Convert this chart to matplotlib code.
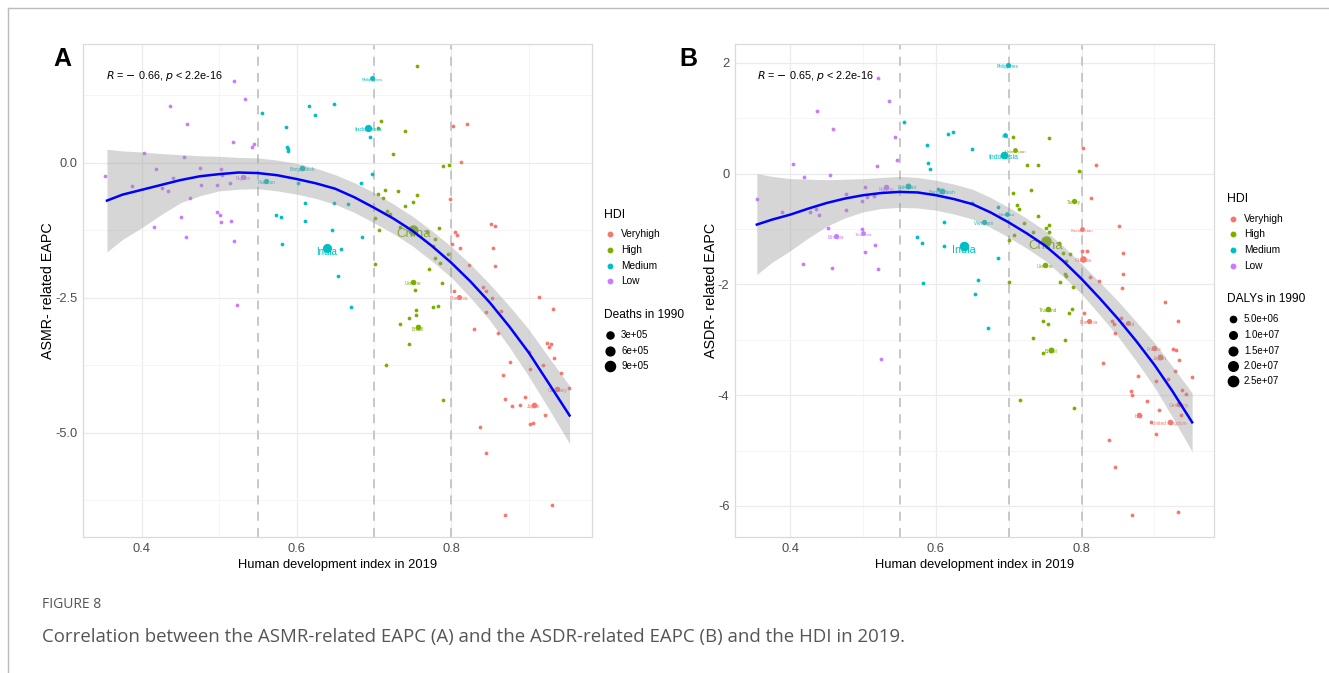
import numpy as np
import matplotlib
matplotlib.use("Agg")
import matplotlib.pyplot as plt
from matplotlib.lines import Line2D

plt.rcParams['font.family'] = ['Liberation Sans', 'DejaVu Sans']

W, H = 1329, 673
hdi_groups = ["Veryhigh", "High", "Medium", "Low"]
colors = {"Veryhigh": "#F8766D", "High": "#7CAE00", "Medium": "#00BFC4", "Low": "#C77CFF"}

# ---------------- panel A : ASMR EAPC vs HDI ----------------
a_low_x = [0.519, 0.534, 0.436, 0.458, 0.518, 0.545, 0.543, 0.403, 0.454, 0.353, 0.418, 0.440, 0.475, 0.502, 0.504, 0.387,
           0.426, 0.434, 0.476, 0.497, 0.514, 0.462, 0.497, 0.501, 0.451, 0.502, 0.515, 0.416, 0.457, 0.519, 0.523]
a_low_y = [1.52, 1.18, 1.06, 0.71, 0.38, 0.35, 0.29, 0.19, 0.10, -0.25, -0.12, -0.28, -0.10, -0.12, -0.23, -0.43,
           -0.46, -0.53, -0.41, -0.41, -0.38, -0.65, -0.91, -0.96, -1.01, -1.09, -1.08, -1.19, -1.38, -1.44, -2.64]
a_med_x = [0.555, 0.616, 0.649, 0.624, 0.587, 0.588, 0.589, 0.589, 0.602, 0.611, 0.649, 0.666, 0.573, 0.580, 0.611, 0.646,
           0.581, 0.657, 0.653, 0.671, 0.695, 0.698, 0.684, 0.685]
a_med_y = [0.93, 1.06, 1.09, 0.89, 0.66, 0.29, 0.26, 0.22, -0.38, -0.75, -0.75, -0.77, -0.97, -1.01, -1.08, -1.25,
           -1.51, -1.59, -2.09, -2.67, 0.47, -0.20, -0.38, -1.37]
a_high_x = [0.756, 0.709, 0.705, 0.740, 0.725, 0.790, 0.797, 0.705, 0.712, 0.714, 0.731, 0.756, 0.751, 0.740, 0.717, 0.721,
            0.701, 0.734, 0.707, 0.784, 0.769, 0.779, 0.776, 0.796, 0.779, 0.785, 0.771, 0.701, 0.788, 0.753, 0.754, 0.754,
            0.777, 0.783, 0.745, 0.734, 0.745, 0.716, 0.789]
a_high_y = [1.80, 0.78, 0.65, 0.58, 0.17, -0.06, -0.04, -0.58, -0.65, -0.50, -0.53, -0.59, -0.73, -0.80, -0.90, -0.95,
            -1.02, -1.18, -1.25, -1.20, -1.28, -1.41, -1.54, -1.69, -1.77, -1.85, -1.97, -1.88, -2.22, -2.35, -2.73, -2.82,
            -2.67, -2.65, -2.88, -2.99, -3.36, -3.75, -4.39]
a_vh_x = [0.802, 0.820, 0.813, 0.798, 0.805, 0.807, 0.801, 0.811, 0.851, 0.856, 0.854, 0.823, 0.856, 0.841, 0.845, 0.803,
          0.853, 0.914, 0.932, 0.845, 0.864, 0.829, 0.861, 0.924, 0.929, 0.927, 0.933, 0.900, 0.876, 0.902, 0.919, 0.867,
          0.942, 0.952, 0.869, 0.895, 0.879, 0.889, 0.921, 0.902, 0.906, 0.837, 0.845, 0.930, 0.870]
a_vh_y = [0.69, 0.72, 0.01, -0.67, -1.28, -1.34, -1.51, -1.57, -1.13, -1.17, -1.57, -1.90, -1.92, -2.30, -2.37, -2.38,
          -2.50, -2.49, -2.71, -2.76, -2.75, -3.08, -3.16, -3.33, -3.35, -3.41, -3.62, -3.51, -3.69, -3.81, -3.74, -3.93,
          -3.89, -4.17, -4.38, -4.33, -4.51, -4.49, -4.67, -4.84, -4.82, -4.90, -5.38, -6.33, -6.53]

a_lab_name = ["Nigeria", "Pakistan", "Bangladesh", "India", "Indonesia", "Philippines", "China", "Ukraine", "Brazil",
              "Romania", "Germany", "Japan"]
a_lab_group = ["Low", "Medium", "Medium", "Medium", "Medium", "Medium", "High", "High", "High",
               "Veryhigh", "Veryhigh", "Veryhigh"]
a_lab_x = [0.531, 0.561, 0.607, 0.639, 0.693, 0.698, 0.751, 0.750, 0.757, 0.810, 0.937, 0.907]
a_lab_y = [-0.27, -0.33, -0.10, -1.58, 0.65, 1.57, -1.24, -2.20, -3.05, -2.48, -4.19, -4.49]
a_lab_deaths = [1.0e5, 1.0e5, 1.2e5, 6.6e5, 3.2e5, 0.6e5, 9.6e5, 1.1e5, 1.3e5, 0.8e5, 1.2e5, 1.3e5]

# smoothed fit with confidence band
a_fit_x = [0.355, 0.375, 0.40, 0.425, 0.45, 0.475, 0.50, 0.525, 0.55, 0.575, 0.60, 0.625, 0.65,
           0.675, 0.70, 0.725, 0.75, 0.775, 0.80, 0.825, 0.85, 0.875, 0.90, 0.925, 0.953]
a_fit_y = [-0.70, -0.59, -0.50, -0.41, -0.32, -0.25, -0.21, -0.18, -0.19, -0.23, -0.30, -0.38, -0.48,
           -0.64, -0.83, -1.03, -1.26, -1.54, -1.85, -2.20, -2.59, -3.03, -3.51, -4.06, -4.68]
a_fit_lo = [-1.65, -1.42, -1.20, -0.96, -0.74, -0.61, -0.52, -0.49, -0.48, -0.52, -0.58, -0.66, -0.77,
            -0.92, -1.11, -1.31, -1.54, -1.82, -2.12, -2.50, -2.92, -3.41, -3.95, -4.53, -5.20]
a_fit_hi = [0.25, 0.22, 0.20, 0.17, 0.15, 0.13, 0.12, 0.10, 0.09, 0.05, -0.01, -0.10, -0.22,
            -0.37, -0.55, -0.76, -0.99, -1.26, -1.55, -1.88, -2.25, -2.65, -3.08, -3.58, -4.13]

# ---------------- panel B : ASDR EAPC vs HDI ----------------
b_low_x = [0.520, 0.535, 0.437, 0.458, 0.544, 0.546, 0.519, 0.404, 0.419, 0.455, 0.354, 0.503, 0.476, 0.505, 0.498, 0.515,
           0.435, 0.427, 0.440, 0.477, 0.389, 0.452, 0.498, 0.516, 0.503, 0.417, 0.457, 0.520, 0.524]
b_low_y = [1.72, 1.31, 1.13, 0.81, 0.67, 0.25, 0.13, 0.17, -0.06, -0.03, -0.45, -0.24, -0.37, -0.43, -0.49, -0.40,
           -0.63, -0.69, -0.74, -0.65, -0.69, -0.99, -1.00, -1.29, -1.41, -1.64, -1.71, -1.73, -3.34]
b_med_x = [0.556, 0.616, 0.624, 0.588, 0.589, 0.592, 0.649, 0.603, 0.649, 0.611, 0.574, 0.581, 0.611, 0.582, 0.658, 0.653,
           0.685, 0.685, 0.672]
b_med_y = [0.93, 0.72, 0.75, 0.52, 0.19, 0.08, 0.45, -0.28, -0.53, -0.87, -1.14, -1.26, -1.30, -1.98, -1.92, -2.17,
           -0.61, -1.52, -2.78]
b_high_x = [0.706, 0.756, 0.725, 0.740, 0.797, 0.706, 0.731, 0.712, 0.714, 0.740, 0.721, 0.751, 0.756, 0.756, 0.734, 0.707,
            0.701, 0.769, 0.774, 0.784, 0.779, 0.777, 0.779, 0.701, 0.771, 0.788, 0.787, 0.783, 0.747, 0.754, 0.734, 0.777,
            0.747, 0.716, 0.789]
b_high_y = [0.67, 0.64, 0.16, 0.16, 0.05, -0.35, -0.29, -0.57, -0.63, -0.76, -0.89, -0.99, -0.92, -1.05, -1.05, -1.10,
            -1.19, -1.25, -1.43, -1.46, -1.57, -1.82, -1.84, -1.96, -1.95, -2.05, -2.44, -2.52, -2.66, -2.71, -2.96, -3.01,
            -3.23, -4.08, -4.24]
b_vh_x = [0.802, 0.820, 0.813, 0.852, 0.800, 0.807, 0.857, 0.857, 0.812, 0.824, 0.855, 0.915, 0.804, 0.842, 0.845, 0.854,
          0.846, 0.932, 0.925, 0.930, 0.934, 0.928, 0.919, 0.902, 0.877, 0.830, 0.952, 0.938, 0.943, 0.868, 0.870, 0.890,
          0.907, 0.937, 0.895, 0.903, 0.838, 0.846, 0.870, 0.932]
b_vh_y = [0.46, 0.15, -0.44, -0.94, -1.39, -1.40, -1.43, -1.81, -1.87, -1.93, -2.07, -2.32, -2.52, -2.66, -2.71, -2.60,
          -2.87, -2.66, -3.17, -3.19, -3.37, -3.56, -3.71, -3.75, -3.66, -3.42, -3.68, -3.90, -3.97, -3.93, -4.00, -4.10,
          -4.26, -4.35, -4.48, -4.70, -4.80, -5.29, -6.17, -6.11]

b_lab_name = ["Nigeria", "Ethiopia", "Tanzania", "Pakistan", "Bangladesh", "India", "Philippines", "Iraq", "Indonesia",
              "Viet Nam", "Morocco", "Uzbekistan", "Turkey", "China", "Ukraine", "Thailand", "Brazil", "Kazakhstan",
              "Russia", "Romania", "Poland", "France", "Japan", "Germany", "Italy", "United Kingdom"]
b_lab_group = ["Low", "Low", "Low", "Medium", "Medium", "Medium", "Medium", "Medium", "Medium",
               "Medium", "Medium", "High", "High", "High", "High", "High", "High", "Veryhigh",
               "Veryhigh", "Veryhigh", "Veryhigh", "Veryhigh", "Veryhigh", "Veryhigh", "Veryhigh", "Veryhigh"]
b_lab_x = [0.532, 0.463, 0.500, 0.561, 0.608, 0.639, 0.699, 0.695, 0.693, 0.666, 0.698, 0.709, 0.789, 0.751, 0.750, 0.754,
           0.758, 0.800, 0.802, 0.810, 0.864, 0.900, 0.908, 0.934, 0.879, 0.921]
b_lab_y = [-0.25, -1.13, -1.08, -0.22, -0.31, -1.31, 1.96, 0.69, 0.34, -0.88, -0.72, 0.42, -0.49, -1.22, -1.65, -2.44,
           -3.18, -1.00, -1.54, -2.66, -2.69, -3.14, -3.31, -4.16, -4.36, -4.49]
b_lab_dalys = [3.0e6, 2.0e6, 1.5e6, 4.0e6, 4.0e6, 2.0e7, 2.0e6, 1.5e6, 1.0e7, 2.5e6, 1.5e6, 1.5e6, 2.5e6, 2.55e7, 3.0e6,
               3.0e6, 4.0e6, 1.5e6, 6.0e6, 2.0e6, 2.0e6, 2.5e6, 4.0e6, 3.5e6, 3.0e6, 3.0e6]

b_fit_x = [0.354, 0.375, 0.40, 0.425, 0.45, 0.475, 0.50, 0.525, 0.55, 0.575, 0.60, 0.625, 0.65,
           0.675, 0.70, 0.725, 0.75, 0.775, 0.80, 0.825, 0.85, 0.875, 0.90, 0.925, 0.952]
b_fit_y = [-0.92, -0.83, -0.74, -0.63, -0.53, -0.45, -0.39, -0.35, -0.33, -0.34, -0.39, -0.46, -0.55,
           -0.70, -0.88, -1.08, -1.30, -1.58, -1.90, -2.25, -2.62, -3.02, -3.45, -3.93, -4.49]
b_fit_lo = [-1.82, -1.60, -1.39, -1.16, -0.95, -0.80, -0.69, -0.63, -0.61, -0.62, -0.66, -0.73, -0.82,
            -0.97, -1.15, -1.35, -1.57, -1.86, -2.17, -2.55, -2.94, -3.38, -3.85, -4.40, -5.02]
b_fit_hi = [0.00, -0.05, -0.09, -0.10, -0.11, -0.10, -0.09, -0.07, -0.05, -0.07, -0.12, -0.19, -0.28,
            -0.43, -0.61, -0.81, -1.03, -1.31, -1.63, -1.96, -2.30, -2.67, -3.05, -3.48, -3.96]

a_size_breaks = [3e5, 6e5, 9e5]
a_size_labels = ["3e+05", "6e+05", "9e+05"]
b_size_breaks = [5e6, 1e7, 1.5e7, 2e7, 2.5e7]
b_size_labels = ["5.0e+06", "1.0e+07", "1.5e+07", "2.0e+07", "2.5e+07"]


def diam_px(v, vref):
    return 3 + 7.5 * np.sqrt(np.asarray(v, dtype=float) / vref)


def label_pt(v, vmax):
    return 3 + 6.5 * (v / vmax) ** 1.3


fig = plt.figure(figsize=(W / 100, H / 100), dpi=100)


def fx(px):
    return px / W


def fy(py):
    return 1 - py / H


def panel(ax, pts, lab, fit, vref, vsmall, ylab, ylab_x, rtxt, rpos, yticks, yfmt, yminor, ylim):
    ax.set_xlim(0.324, 0.982)
    ax.set_ylim(*ylim)
    ax.set_xticks([0.4, 0.6, 0.8])
    ax.set_xticks([0.5, 0.7, 0.9], minor=True)
    ax.set_yticks(yticks)
    ax.set_yticklabels([yfmt.format(t) for t in yticks])
    ax.set_yticks(yminor, minor=True)
    ax.grid(which='major', color='#EBEBEB', lw=0.9)
    ax.grid(which='minor', color='#F4F4F4', lw=0.6)
    ax.set_axisbelow(True)
    for s in ax.spines.values():
        s.set_color('#DADADA')
        s.set_linewidth(0.9)
    ax.tick_params(which='both', length=0, labelsize=9.3, labelcolor='#4D4D4D', pad=4)
    for xv in [0.55, 0.7, 0.8]:
        ax.axvline(xv, color='#C4C4C4', lw=1.3, ls=(0, (5, 4)), zorder=1.5)

    small = (diam_px(vsmall, vref) * 0.72) ** 2
    for g, (xs, ys) in pts.items():
        ax.scatter(xs, ys, s=small, color=colors[g], lw=0, zorder=2)

    names, grp, lx, ly, lv = lab
    vmax = max(lv)
    for n, g, x, y, v in zip(names, grp, lx, ly, lv):
        ax.scatter([x], [y], s=(diam_px(v, vref) * 0.72) ** 2, color=colors[g], lw=0, zorder=2)
        fs = label_pt(v, vmax)
        ax.annotate(n, (x, y), xytext=(0, -0.35 * fs), textcoords='offset points', ha='center', va='center',
                    fontsize=fs, color=colors[g], zorder=3)

    fxs, fys, flo, fhi = fit
    ax.fill_between(fxs, flo, fhi, color='#999999', alpha=0.4, lw=0, zorder=4)
    ax.plot(fxs, fys, color='#0000FF', lw=1.8, zorder=5)

    ax.text(rpos[0], rpos[1], rtxt, fontsize=7.8, ha='left', va='center', zorder=6)
    ax.set_xlabel("Human development index in 2019", fontsize=9.3, labelpad=3)
    ax.set_ylabel(ylab, fontsize=10.3)
    ax.yaxis.set_label_coords(ylab_x, 0.5)


axA = fig.add_axes([fx(83), fy(537), fx(592) - fx(83), fy(44) - fy(537)])
panel(axA,
      {"Low": (a_low_x, a_low_y), "Medium": (a_med_x, a_med_y), "High": (a_high_x, a_high_y),
       "Veryhigh": (a_vh_x, a_vh_y)},
      (a_lab_name, a_lab_group, a_lab_x, a_lab_y, a_lab_deaths),
      (a_fit_x, a_fit_y, a_fit_lo, a_fit_hi),
      1e6, 1e4, "ASMR- related EAPC", (55 - 83) / 509, r"$R$ = $-$ 0.66, $p$ < 2.2e-16", (0.354, 1.61),
      [-5.0, -2.5, 0.0], "{:.1f}", [-6.25, -3.75, -1.25, 1.25], (-6.93, 2.20))

axB = fig.add_axes([fx(735), fy(537), fx(1214) - fx(735), fy(44) - fy(537)])
panel(axB,
      {"Low": (b_low_x, b_low_y), "Medium": (b_med_x, b_med_y), "High": (b_high_x, b_high_y),
       "Veryhigh": (b_vh_x, b_vh_y)},
      (b_lab_name, b_lab_group, b_lab_x, b_lab_y, b_lab_dalys),
      (b_fit_x, b_fit_y, b_fit_lo, b_fit_hi),
      2.6e7, 3e5, "ASDR- related EAPC", (718 - 735) / 479, r"$R$ = $-$ 0.65, $p$ < 2.2e-16", (0.354, 1.77),
      [-6, -4, -2, 0, 2], "{:g}", [-5, -3, -1, 1], (-6.56, 2.34))

# panel letters
fig.text(fx(53), fy(66), "A", fontsize=18, fontweight='bold', ha='left', va='baseline')
fig.text(fx(679), fy(66), "B", fontsize=18, fontweight='bold', ha='left', va='baseline')


def legend_block(x0, y_title, ys_items, y_title2, ys_sizes, size_breaks, size_labels, vref, title2):
    fig.text(fx(x0), fy(y_title), "HDI", fontsize=8.8, ha='left', va='center')
    for g, yy in zip(hdi_groups, ys_items):
        fig.add_artist(Line2D([fx(x0 + 6)], [fy(yy)], marker='o', ms=3.2, color=colors[g], lw=0,
                              transform=fig.transFigure))
        fig.text(fx(x0 + 17), fy(yy), g, fontsize=7.3, ha='left', va='center')
    fig.text(fx(x0), fy(y_title2), title2, fontsize=8.6, ha='left', va='center')
    for b, lbl, yy in zip(size_breaks, size_labels, ys_sizes):
        fig.add_artist(Line2D([fx(x0 + 6)], [fy(yy)], marker='o', ms=diam_px(b, vref) * 0.72, color='black',
                              lw=0, transform=fig.transFigure))
        fig.text(fx(x0 + 17), fy(yy), lbl, fontsize=7, ha='left', va='center')


legend_block(604, 215, [234, 250, 266, 281], 315, [335, 351, 366], a_size_breaks, a_size_labels, 1e6,
             "Deaths in 1990")
legend_block(1227, 199, [219, 234, 250, 266], 299, [319, 335, 351, 366, 381], b_size_breaks, b_size_labels, 2.6e7,
             "DALYs in 1990")

# page frame and caption
fig.add_artist(Line2D([fx(8), fx(8)], [fy(8), 0], color='#BBBBBB', lw=1, transform=fig.transFigure))
fig.add_artist(Line2D([fx(8), 1], [fy(8), fy(8)], color='#BBBBBB', lw=1, transform=fig.transFigure))
fig.text(fx(42), fy(605), "FIGURE 8", fontsize=10, color='#555555', family=['Open Sans', 'DejaVu Sans'],
         ha='left', va='center')
fig.text(fx(42), fy(637),
         "Correlation between the ASMR-related EAPC (A) and the ASDR-related EAPC (B) and the HDI in 2019.",
         fontsize=13.4, color='#555555', family=['Open Sans', 'DejaVu Sans'], ha='left', va='center')

fig.savefig("out.png", dpi=100)
